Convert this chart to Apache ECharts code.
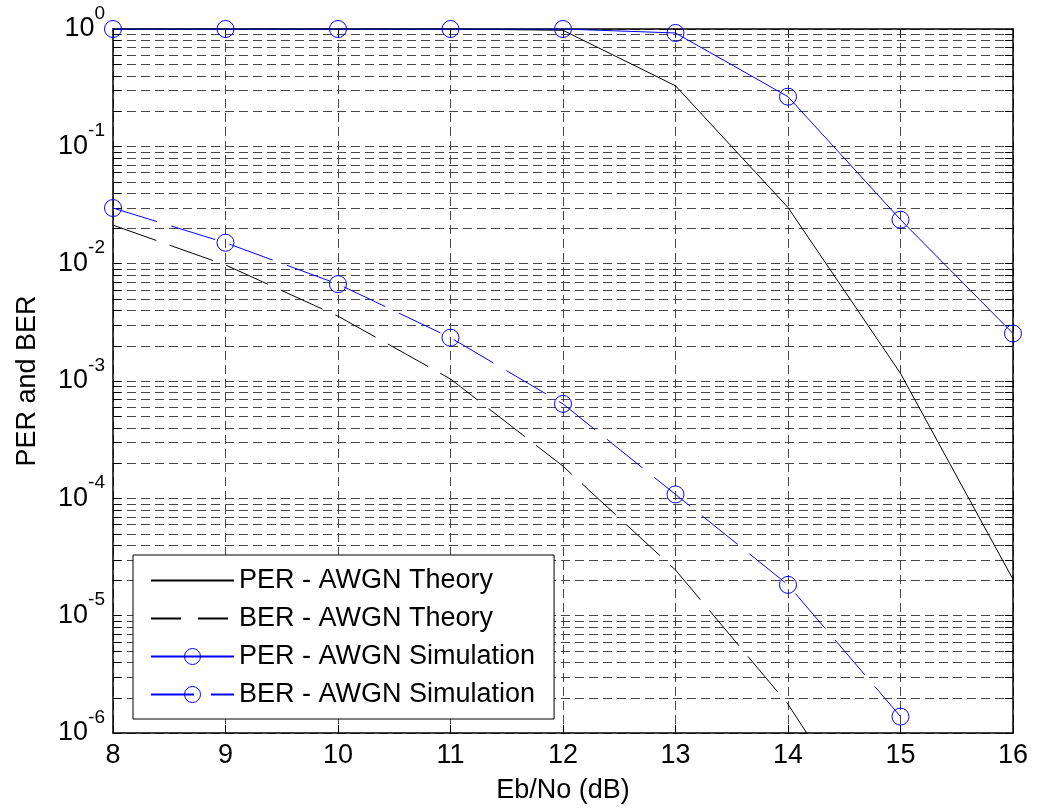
<!DOCTYPE html>
<html><head><meta charset="utf-8">
<script src="https://cdn.jsdelivr.net/npm/echarts@6/dist/echarts.min.js"></script>
<style>html,body{margin:0;padding:0;background:#fff}#c{width:1041px;height:809px}</style>
</head><body><div id="c"></div>
<script>
// ---- data ----
const ebno = [8, 9, 10, 11, 12, 13, 14, 15, 16];
const perTheory = [1, 1, 1, 1, 0.975, 0.328, 0.0301, 0.00116, 0.0000204];
const berTheory = [0.0213, 0.00975, 0.00357, 0.00104, 0.000188, 0.0000245, 0.00000176, 0.000000059, null];
const perSim = [1, 1, 1, 1, 1, 0.925, 0.265, 0.0237, 0.00254];
const berSim = [0.0298, 0.01508, 0.0067, 0.00234, 0.000638, 0.000108, 0.0000183, 0.00000138, null];
const seriesNames = ['PER - AWGN Theory', 'BER - AWGN Theory', 'PER - AWGN Simulation', 'BER - AWGN Simulation'];
const xRange = [8, 16];
const yRange = [1e-6, 1];
const minorMantissas = [2, 3, 4, 5, 6, 7, 8, 9];
const minorExponents = [-6, -5, -4, -3, -2, -1];
const xTitle = 'Eb/No (dB)';
const yTitle = 'PER and BER';

const FONT = "'Liberation Sans', Arial, Helvetica, sans-serif";
const pairs = (ys) => ebno.map((x, i) => [x, ys[i]]);
const minorData = [];
minorExponents.forEach(e => minorMantissas.forEach(m => minorData.push([xRange[0], m * Math.pow(10, e)])));

const chart = echarts.init(document.getElementById('c'), null, {renderer: 'canvas'});
const GRIDC = '#474747';
const option = {
  animation: false,
  backgroundColor: '#fff',
  grid: {left: 113, right: 28, top: 29, bottom: 71},
  legend: {
    orient: 'vertical', left: 133, top: 555,
    backgroundColor: '#fff', borderColor: '#000', borderWidth: 1, borderRadius: 0,
    padding: [12, 19, 11, 17], itemWidth: 83, itemHeight: 20, itemGap: 11,
    textStyle: {fontSize: 27, color: '#000', fontFamily: FONT},
    selectedMode: false,
    data: [
      {name: seriesNames[0], itemStyle: {opacity: 0}},
      {name: seriesNames[1], itemStyle: {opacity: 0}, lineStyle: {type: [30, 17]}},
      {name: seriesNames[2], itemStyle: {borderWidth: 1}},
      {name: seriesNames[3], itemStyle: {borderWidth: 1}, lineStyle: {type: [43, 17]}}
    ]
  },
  xAxis: [{
    type: 'value', min: xRange[0], max: xRange[1], interval: 1, position: 'bottom',
    axisLine: {show: true, lineStyle: {color: '#000', width: 1.5}},
    axisTick: {show: true, inside: true, length: 8, lineStyle: {color: '#000', width: 1}},
    axisLabel: {color: '#000', fontSize: 27, fontFamily: FONT, margin: 9},
    splitLine: {show: true, lineStyle: {color: GRIDC, width: 1, type: [9, 5]}},
    name: xTitle, nameLocation: 'middle', nameGap: 44,
    nameTextStyle: {color: '#000', fontSize: 27, fontFamily: FONT}
  }, {
    type: 'value', min: xRange[0], max: xRange[1], interval: 1, position: 'top',
    axisLine: {show: true, lineStyle: {color: '#000', width: 1.5}},
    axisTick: {show: true, inside: true, length: 8, lineStyle: {color: '#000', width: 1}},
    axisLabel: {show: false}, splitLine: {show: false}
  }],
  yAxis: [{
    type: 'log', logBase: 10, min: yRange[0], max: yRange[1], position: 'left',
    axisLine: {show: true, lineStyle: {color: '#000', width: 1.5}},
    axisTick: {show: true, inside: true, length: 8, lineStyle: {color: '#000', width: 1}},
    axisLabel: {
      margin: 8, showMinLabel: true, showMaxLabel: true,
      formatter: v => '{b|10}{s|' + Math.round(Math.log10(v)) + '}',
      rich: {
        b: {fontSize: 27, lineHeight: 50, fontFamily: FONT, color: '#000'},
        s: {fontSize: 19, verticalAlign: 'top', fontFamily: FONT, color: '#000'}
      }
    },
    splitLine: {show: true, lineStyle: {color: GRIDC, width: 1, type: [9, 5]}},
    name: yTitle, nameLocation: 'middle', nameGap: 72, nameRotate: 90,
    nameTextStyle: {color: '#000', fontSize: 27, fontFamily: FONT}
  }, {
    type: 'log', logBase: 10, min: yRange[0], max: yRange[1], position: 'right',
    axisLine: {show: true, lineStyle: {color: '#000', width: 1.5}},
    axisTick: {show: true, inside: true, length: 8, lineStyle: {color: '#000', width: 1}},
    axisLabel: {show: false}, splitLine: {show: false}
  }],
  series: [{
    type: 'custom', name: 'minor', silent: true, z: 1,
    xAxisIndex: 0, yAxisIndex: 0,
    encode: {x: 0, y: 1},
    data: minorData,
    renderItem: function (params, api) {
      const v = api.value(1);
      const a = api.coord([xRange[0], v]);
      const b = api.coord([xRange[1], v]);
      const y = Math.round(a[1]) + 0.5;
      return {type: 'group', children: [
        {type: 'line', shape: {x1: a[0], y1: y, x2: b[0], y2: y}, style: {stroke: GRIDC, lineWidth: 1, lineDash: [9, 5]}},
        {type: 'line', shape: {x1: a[0], y1: y, x2: a[0] + 8, y2: y}, style: {stroke: '#000', lineWidth: 1}},
        {type: 'line', shape: {x1: b[0] - 8, y1: y, x2: b[0], y2: y}, style: {stroke: '#000', lineWidth: 1}}
      ]};
    }
  }, {
    name: seriesNames[0], type: 'line', data: pairs(perTheory), symbol: 'none',
    color: '#000', itemStyle: {color: '#000'},
    lineStyle: {color: '#000', width: 1}, emphasis: {disabled: true}, z: 3
  }, {
    name: seriesNames[1], type: 'line', data: pairs(berTheory), symbol: 'none',
    color: '#000', itemStyle: {color: '#000'},
    lineStyle: {color: '#000', width: 1, type: [46, 14]}, emphasis: {disabled: true}, z: 3
  }, {
    name: seriesNames[2], type: 'line', data: pairs(perSim), symbol: 'circle', symbolSize: 17,
    color: '#0000ff', itemStyle: {color: 'rgba(0,0,0,0)', borderColor: '#0000ff', borderWidth: 1},
    lineStyle: {color: '#0000ff', width: 1}, emphasis: {disabled: true}, z: 4
  }, {
    name: seriesNames[3], type: 'line', data: pairs(berSim), symbol: 'circle', symbolSize: 17,
    color: '#0000ff', itemStyle: {color: 'rgba(0,0,0,0)', borderColor: '#0000ff', borderWidth: 1},
    lineStyle: {color: '#0000ff', width: 1, type: [46, 15]}, emphasis: {disabled: true}, z: 4
  }]
};
chart.setOption(option);
</script></body></html>
